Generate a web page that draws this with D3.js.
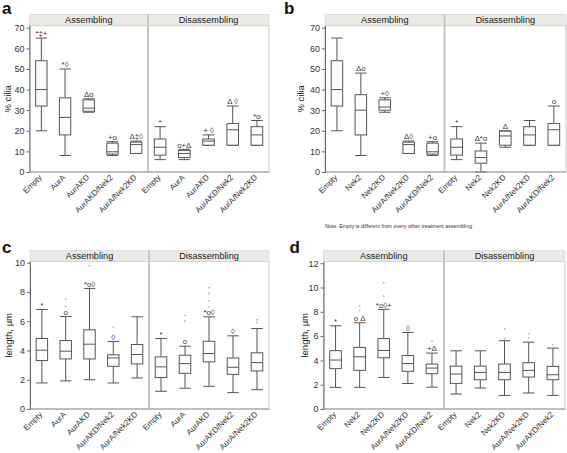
<!DOCTYPE html>
<html><head><meta charset="utf-8">
<script src="https://cdn.jsdelivr.net/npm/d3@7"></script>
<style>body{margin:0;background:#fff;}svg{display:block;font-family:"Liberation Sans",Arial,Helvetica,sans-serif;}</style>
</head><body><svg id="chart" width="567" height="453"></svg>
<script>
// ---------------- DATA ----------------
const facets = ["Assembling", "Disassembling"];
const catsAC = ["Empty", "AurA", "AurAKD", "AurAKD/Nek2", "AurA/Nek2KD"];
const catsBD = ["Empty", "Nek2", "Nek2KD", "AurA/Nek2KD", "AurAKD/Nek2"];
const ticksCilia = [0, 10, 20, 30, 40, 50, 60, 70];
const ticksLenC = [0, 2, 4, 6, 8, 10];
const ticksLenD = [0, 2, 4, 6, 8, 10, 12];
const note = "Note: Empty is different from every other treatment assembling";

// box stats: [lowerWhisker, Q1, median, Q3, upperWhisker]
const aAsm = [[20,32,40,54,65],[8,18,26.5,36,50],[29,29.5,31,35,35.5],[8,8.7,9.8,14,14.7],[9,9,13.3,14.5,15]];
const aDis = [[6,8.2,12,16,22],[6,7,9,10.5,11],[13,13,15,16,18],[13,13,20.5,23.5,32],[13,13,18,22,25]];
const bAsm = [[20,32,40,54,65],[8,18,30,37.5,48],[29,30,31.5,35,36],[9,9,13.3,14.5,15],[8,8.7,9.8,14,14.7]];
const bDis = [[6,8.2,12,16,22],[0,4.3,7,10.2,14],[12,13,17.5,19.8,20],[13,13,18,22,25],[13,13,20.5,23.5,32]];
const cAsm = [[1.78,3.31,4.02,4.82,6.8],[1.92,3.42,3.95,4.68,6.32],[2.0,3.42,4.43,5.41,8.24],[1.78,2.92,3.49,3.7,4.61],[2.12,3.08,3.72,4.41,6.3]];
const cDis = [[1.21,2.15,2.88,3.56,4.82],[1.42,2.44,3.1,3.68,4.29],[1.55,3.22,3.79,4.63,6.3],[1.12,2.37,2.85,3.49,5.0],[1.32,2.6,3.17,3.84,5.5]];
const dAsm = [[1.78,3.32,4.03,4.8,6.85],[1.78,3.18,4.3,5.07,7.1],[2.6,4.22,4.82,5.8,8.2],[2.1,3.1,3.74,4.4,6.3],[1.8,2.9,3.37,3.7,4.6]];
const dDis = [[1.23,2.11,2.88,3.53,4.79],[1.73,2.41,3.01,3.53,4.79],[1.12,2.41,3.01,3.7,5.62],[1.32,2.63,3.18,3.81,5.5],[1.12,2.41,2.82,3.51,5.01]];

// outliers per box
const cAsmOut = [[],[7.0,7.5],[9.8],[5.6],[]];
const cDisOut = [[],[6.0,6.4],[7.0,7.4,7.9,8.3],[],[5.9,6.1]];
const dAsmOut = [[],[8.1,8.5],[9.3,10.4],[],[5.6]];
const dDisOut = [[],[],[5.8,6.6],[5.85,6.2],[5.3]];
const noOut = [[],[],[],[],[]];

// significance marks
const aAsmSig = ["*‡+","*◊","Δo","+o","Δ‡◊"];
const aDisSig = ["*","o+Δ","+ ◊","Δ ◊","*o"];
const bAsmSig = ["","Δo","+◊","Δ◊","+o"];
const bDisSig = ["*","Δ*o","Δ","","o"];
const cAsmSig = ["*","o","*o◊","◊",""];
const cDisSig = ["*","o","*o◊","◊",""];
const dAsmSig = ["*","o Δ","*o◊+","◊","+Δ"];
const dDisSig = ["","","","",""];

// ---------------- DRAW ----------------
const svg = d3.select("#chart");

function panel(o) {
  const g = svg.append("g");
  const y = d3.scaleLinear().domain(o.yDomain).range([o.bottom, o.headBot]);
  const ranges = [[o.left, o.mid], [o.mid, o.right]];
  const data = [[o.asm, o.asmOut, o.asmSig], [o.dis, o.disOut, o.disSig]];

  ranges.forEach((r, fi) => {
    g.append("rect").attr("x", r[0]).attr("y", o.headBot).attr("width", r[1]-r[0]).attr("height", o.bottom-o.headBot)
      .attr("fill", "#fff").attr("stroke", "#c6c6c6").attr("stroke-width", 1);
    g.append("rect").attr("x", r[0]).attr("y", o.headTop).attr("width", r[1]-r[0]).attr("height", o.headBot-o.headTop)
      .attr("fill", "#ebeae5").attr("stroke", "#d4d3ce").attr("stroke-width", 0.6);
    g.append("text").attr("x", (r[0]+r[1])/2).attr("y", (o.headTop+o.headBot)/2).attr("dy", "0.36em")
      .attr("text-anchor", "middle").attr("font-size", 9.2).attr("fill", "#222").text(facets[fi]);

    const x = d3.scaleBand().domain(o.cats).range(r);
    const bw = x.bandwidth() * 0.48;
    const [stats, outs, sigs] = data[fi];
    o.cats.forEach((c, i) => {
      const cx = x(c) + x.bandwidth()/2;
      const [lo, q1, md, q3, hi] = stats[i];
      const st = "#555";
      g.append("line").attr("x1", cx).attr("x2", cx).attr("y1", y(hi)).attr("y2", y(q3)).attr("stroke", st);
      g.append("line").attr("x1", cx).attr("x2", cx).attr("y1", y(q1)).attr("y2", y(lo)).attr("stroke", st);
      g.append("line").attr("x1", cx-bw/2).attr("x2", cx+bw/2).attr("y1", y(hi)).attr("y2", y(hi)).attr("stroke", st);
      g.append("line").attr("x1", cx-bw/2).attr("x2", cx+bw/2).attr("y1", y(lo)).attr("y2", y(lo)).attr("stroke", st);
      g.append("rect").attr("x", cx-bw/2).attr("y", y(q3)).attr("width", bw).attr("height", Math.max(0.5, y(q1)-y(q3)))
        .attr("fill", "#fff").attr("stroke", st);
      g.append("line").attr("x1", cx-bw/2).attr("x2", cx+bw/2).attr("y1", y(md)).attr("y2", y(md)).attr("stroke", st);
      outs[i].forEach(v => {
        g.append("circle").attr("cx", cx).attr("cy", y(v)).attr("r", 0.9).attr("fill", "#b5b5b5");
      });
      if (sigs[i]) {
        g.append("text").attr("x", cx).attr("y", y(hi) - 1.8).attr("text-anchor", "middle")
          .attr("font-size", 7.8).attr("fill", "#333").text(sigs[i]);
      }
      g.append("text").attr("transform", `translate(${cx-1},${o.bottom+4}) rotate(-45)`)
        .attr("text-anchor", "end").attr("dy", "0.35em").attr("font-size", 8).attr("fill", "#333").text(c);
    });
  });
  g.append("line").attr("x1", o.mid).attr("x2", o.mid).attr("y1", o.headTop).attr("y2", o.bottom)
    .attr("stroke", "#c6c6c6").attr("stroke-width", 2);
  g.append("line").attr("x1", o.left).attr("x2", o.right).attr("y1", o.bottom).attr("y2", o.bottom)
    .attr("stroke", "#999").attr("stroke-width", 1);

  const ax = g.append("g").attr("transform", `translate(${o.left},0)`)
    .call(d3.axisLeft(y).tickValues(o.ticks).tickSize(3).tickPadding(2).tickSizeOuter(0));
  ax.select(".domain").attr("stroke", "#666");
  ax.selectAll(".tick line").attr("stroke", "#666");
  ax.selectAll(".tick text").attr("font-size", 9).attr("fill", "#333").attr("font-family", "Liberation Sans, Arial, sans-serif");

  g.append("text").attr("transform", `translate(${o.titleX},${(o.headBot+o.bottom)/2}) rotate(-90)`)
    .attr("text-anchor", "middle").attr("dy", "0.35em").attr("font-size", 9.5).attr("fill", "#222").text(o.title);
  g.append("text").attr("x", o.letterX).attr("y", o.letterY).attr("font-size", 17).attr("font-weight", "bold")
    .attr("fill", "#111").text(o.letter);
}

panel({letter:"a", letterX:2, letterY:14, title:"% cilia", titleX:8,
  left:29.5, mid:148, right:269, headTop:14.3, headBot:25.7, bottom:172, yDomain:[0,71], ticks:ticksCilia,
  cats:catsAC, asm:aAsm, dis:aDis, asmOut:noOut, disOut:noOut, asmSig:aAsmSig, disSig:aDisSig});
panel({letter:"b", letterX:284, letterY:13.8, title:"% cilia", titleX:300.5,
  left:325, mid:444.5, right:566, headTop:14.3, headBot:25.7, bottom:172, yDomain:[0,71], ticks:ticksCilia,
  cats:catsBD, asm:bAsm, dis:bDis, asmOut:noOut, disOut:noOut, asmSig:bAsmSig, disSig:bDisSig});
panel({letter:"c", letterX:2, letterY:253.3, title:"length, µm", titleX:9,
  left:30, mid:149, right:269, headTop:250.5, headBot:261.5, bottom:409, yDomain:[0,10.08], ticks:ticksLenC,
  cats:catsAC, asm:cAsm, dis:cDis, asmOut:cAsmOut, disOut:cDisOut, asmSig:cAsmSig, disSig:cDisSig});
panel({letter:"d", letterX:289.5, letterY:252.5, title:"length, µm", titleX:304.5,
  left:323.5, mid:444, right:565, headTop:250.5, headBot:261.5, bottom:409, yDomain:[0,12.14], ticks:ticksLenD,
  cats:catsBD, asm:dAsm, dis:dDis, asmOut:dAsmOut, disOut:dDisOut, asmSig:dAsmSig, disSig:dDisSig});

svg.append("text").attr("x", 325).attr("y", 228).attr("font-size", 5.3).attr("fill", "#333").text(note);
</script></body></html>
